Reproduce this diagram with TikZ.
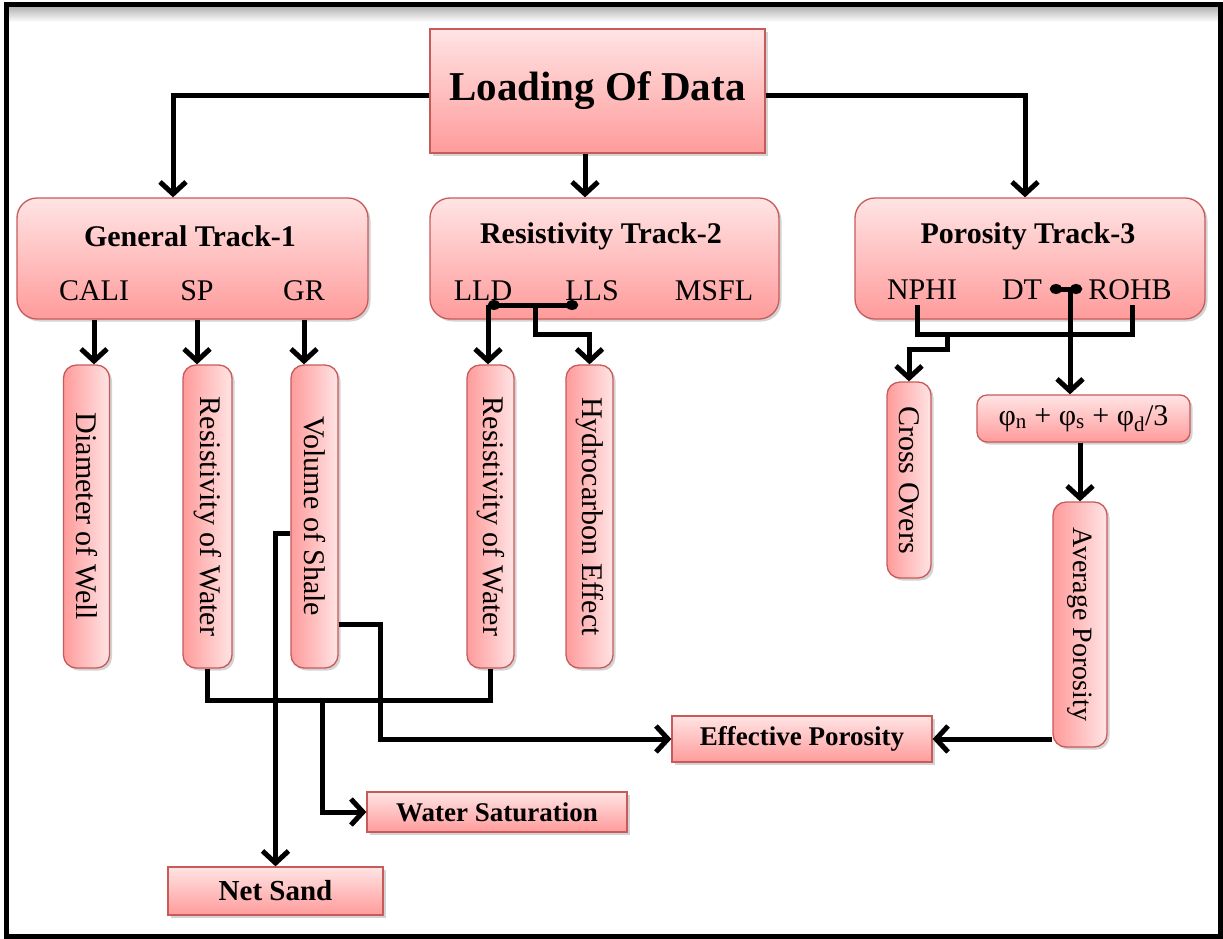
\documentclass[tikz,border=0pt]{standalone}
\usepackage{fontspec}
\setmainfont{Liberation Serif}
\usepackage{graphicx}
\usetikzlibrary{arrows.meta,shadows,calc}
\definecolor{boxred}{RGB}{200,90,90}
\definecolor{pinklight}{RGB}{255,228,228}
\definecolor{pinkdark}{RGB}{255,155,155}
\tikzset{
  conn/.style={line width=5pt, black, line join=miter},
  arr/.style={conn, -{Straight Barb[length=12pt,width=26pt]}},
  dotline/.style={conn, {Circle[length=12pt,width=10pt]}-{Circle[length=12pt,width=10pt]}},
  shad/.style={drop shadow={opacity=0.35, shadow xshift=2.5pt, shadow yshift=-2.5pt}},
  hbox/.style={draw=boxred, line width=1.3pt, top color=pinklight, bottom color=pinkdark, shad, inner sep=0pt},
  trackbox/.style={hbox, rounded corners=20pt},
  vbox/.style={draw=boxred, line width=1.3pt, left color=pinkdark, right color=pinklight, shad, rounded corners=13pt, inner sep=0pt},
  ttl/.style={font=\fontsize{30}{36}\selectfont\bfseries},
  lbl/.style={font=\fontsize{30}{36}\selectfont},
}
\begin{document}
\begin{tikzpicture}[x=1pt,y=-1pt]
\useasboundingbox (0,0) rectangle (1223,938);
% frame
\shade[top color=black!30, bottom color=white] (9,6.5) rectangle (1218,22);
\draw[line width=5pt] (6.5,4) rectangle (1220.5,936.5);

% top box
\node[hbox, minimum width=335pt, minimum height=124pt, font=\fontsize{41}{48}\selectfont\bfseries] (load) at (597.5,91) {Loading Of Data};

% track boxes
\node[trackbox, minimum width=351pt, minimum height=121pt] (gen) at (192.5,258.5) {};
\node[trackbox, minimum width=349pt, minimum height=121pt] (res) at (604.5,258.5) {};
\node[trackbox, minimum width=350pt, minimum height=121pt] (por) at (1030,258.5) {};

\node[ttl] (gent) at (190,236) {General Track-1};
\node[ttl] (rest) at (601,236) {Resistivity Track-2};
\node[ttl] (port) at (1028,236) {Porosity Track-3};

\node[lbl] (cali) at (94,291) {CALI};
\node[lbl] (sp) at (197,291) {SP};
\node[lbl] (gr) at (304,291) {GR};
\node[lbl] (lld) at (483,291) {LLD};
\node[lbl] (lls) at (592,291) {LLS};
\node[lbl] (msfl) at (714,291) {MSFL};
\node[lbl] (nphi) at (922,290) {NPHI};
\node[lbl] (dt) at (1022,290) {DT};
\node[lbl] (rohb) at (1130,290) {ROHB};

% vertical boxes
\node[vbox, minimum width=46pt, minimum height=303pt] (dia) at (86.5,516.5) {\rotatebox{-90}{\fontsize{30}{36}\selectfont Diameter of Well}};
\node[vbox, minimum width=49pt, minimum height=303pt] (rw1) at (207.5,516.5) {\rotatebox{-90}{\fontsize{30}{36}\selectfont Resistivity of Water}};
\node[vbox, minimum width=47pt, minimum height=303pt] (vsh) at (314.5,516.5) {\rotatebox{-90}{\fontsize{30}{36}\selectfont Volume of  Shale}};
\node[vbox, minimum width=47pt, minimum height=303pt] (rw2) at (490.5,516.5) {\rotatebox{-90}{\fontsize{30}{36}\selectfont Resistivity of Water}};
\node[vbox, minimum width=47pt, minimum height=303pt] (hc) at (589.5,516.5) {\rotatebox{-90}{\fontsize{30}{36}\selectfont Hydrocarbon Effect}};
\node[vbox, minimum width=44pt, minimum height=196pt] (co) at (909,480) {\rotatebox{-90}{\fontsize{30}{36}\selectfont Cross Overs}};
\node[hbox, rounded corners=10pt, minimum width=213pt, minimum height=47pt, font=\fontsize{30}{36}\selectfont] (phi) at (1083.5,418.5) {φ\textsubscript{n} + φ\textsubscript{s} + φ\textsubscript{d}/3};
\node[vbox, minimum width=54pt, minimum height=245pt] (avg) at (1080,624.5) {\rotatebox{-90}{\fontsize{28}{34}\selectfont Average Porosity}};

% bottom boxes
\node[hbox, minimum width=260pt, minimum height=46pt, font=\fontsize{27}{32}\selectfont\bfseries] (ep) at (802,739) {Effective Porosity};
\node[hbox, minimum width=260pt, minimum height=40pt, font=\fontsize{27}{32}\selectfont\bfseries] (ws) at (497,812) {Water Saturation};
\node[hbox, minimum width=215pt, minimum height=48pt, font=\fontsize{29}{34}\selectfont\bfseries] (ns) at (275.5,891) {Net Sand};

% connectors from top
\draw[arr] (load.west |- 0,95) -| (gen.north -| 173,0);
\draw[arr] (load.south -| 585,0) -- (res.north -| 585,0);
\draw[arr] (load.east |- 0,95) -| (por.north -| 1025,0);

% general track
\draw[arr] (cali |- gen.south) -- (cali |- dia.north);
\draw[arr] (sp |- gen.south) -- (sp |- rw1.north);
\draw[arr] (gr |- gen.south) -- (gr |- vsh.north);

% resistivity track
\coordinate (lldp) at (488,305);
\coordinate (llsp) at (578,305);
\coordinate (rmid) at (535,305);
\draw[dotline] (lldp) -- (llsp);
\draw[arr] (lldp) -- (lldp |- rw2.north);
\draw[arr] (rmid) -- (535,334) -| (hc.north);

% porosity track
\coordinate (np) at (917,305);
\coordinate (rb) at (1132,305);
\draw[conn] (np) -- (917,334) -- (1132,334) -- (rb);
\draw[arr] (947,334) -- (947,349) -| (co.north);
\coordinate (dtp) at (1050,289);
\coordinate (rbp) at (1082,289);
\draw[dotline] (dtp) -- (rbp);
\draw[arr] (1070,289) -- (phi.north -| 1070,0);
\draw[arr] (phi.south -| avg.north) -- (avg.north);
\draw[arr] (ep.east -| avg.west) -- (ep.east);

% lower network
\draw[conn] (rw1.south) -- ++(0,32) -| (rw2.south);
\draw[arr] (322,700) |- (ws.west);
\draw[arr] (vsh.west |- 0,533) -| (ns.north);
\draw[arr] (vsh.east |- 0,624) -- (380,624) |- (ep.west);
\end{tikzpicture}
\end{document}
